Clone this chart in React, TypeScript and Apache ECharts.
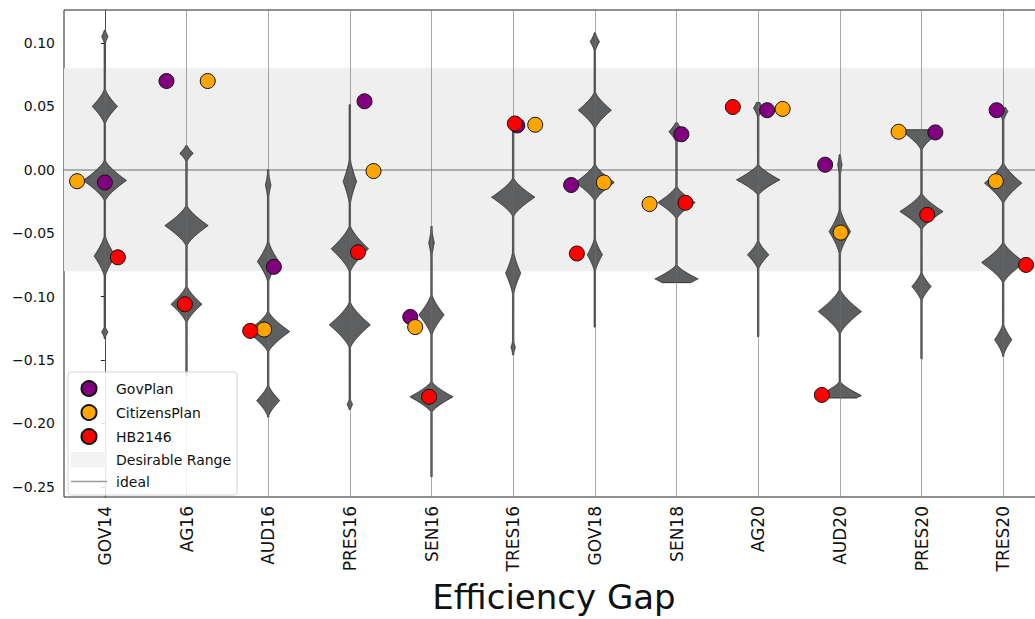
import React, { useEffect, useRef } from 'react';
import * as echarts from 'echarts';

const categories = ['GOV14', 'AG16', 'AUD16', 'PRES16', 'SEN16', 'TRES16', 'GOV18', 'SEN18', 'AG20', 'AUD20', 'PRES20', 'TRES20'];

const govPlan = [-0.010, 0.070, -0.0765, 0.054, -0.116, 0.035, -0.012, 0.028, 0.047, 0.004, 0.0295, 0.047];
const citizensPlan = [-0.009, 0.070, -0.126, -0.001, -0.124, 0.0355, -0.010, -0.027, 0.048, -0.0495, 0.030, -0.009];
const hb2146 = [-0.069, -0.106, -0.127, -0.065, -0.179, 0.0365, -0.066, -0.026, 0.0495, -0.1775, -0.0355, -0.075];

// horizontal dodge of each point within its category (fraction of category width)
const govOffset = [0, -0.245, 0.07, 0.18, -0.26, 0.05, -0.29, 0.06, 0.11, -0.18, 0.17, -0.08];
const citOffset = [-0.34, 0.26, -0.05, 0.29, -0.2, 0.27, 0.11, -0.33, 0.30, 0.01, -0.28, -0.09];
const hbOffset = [0.16, -0.02, -0.22, 0.10, -0.03, 0.02, -0.22, 0.11, -0.31, -0.22, 0.07, 0.28];

// violin extents
const violinMin = [-0.133, -0.162, -0.195, -0.189, -0.242, -0.146, -0.124, -0.089, -0.1315, -0.180, -0.149, -0.147];
const violinMax = [0.110, 0.019, 0.0, 0.0513, -0.0447, 0.038, 0.108, 0.037, 0.053, 0.0118, 0.0316, 0.049];
// violin density modes: [centre value, relative density, half extent]
const violinModes = [
  [[0.105, 0.12, 0.005], [0.050, 0.57, 0.0134], [-0.0084, 1.0, 0.0158], [-0.068, 0.48, 0.0158], [-0.128, 0.12, 0.004]],
  [[0.013, 0.29, 0.0063], [-0.044, 1.0, 0.0158], [-0.106, 0.71, 0.0142]],
  [[-0.012, 0.1, 0.0095], [-0.0723, 0.48, 0.0158], [-0.1276, 1.0, 0.0158], [-0.182, 0.52, 0.012]],
  [[-0.0092, 0.29, 0.0174], [-0.0623, 0.86, 0.018], [-0.1223, 0.95, 0.018], [-0.185, 0.1, 0.004]],
  [[-0.0576, 0.1, 0.0095], [-0.1144, 0.57, 0.0158], [-0.179, 1.0, 0.012]],
  [[0.035, 0.19, 0.005], [-0.0216, 1.0, 0.015], [-0.0815, 0.33, 0.0166], [-0.14, 0.07, 0.005]],
  [[0.101, 0.19, 0.007], [0.047, 0.76, 0.0142], [-0.010, 0.9, 0.0142], [-0.067, 0.33, 0.0126]],
  [[0.030, 0.33, 0.008], [-0.0258, 0.86, 0.0126], [-0.086, 1.0, 0.011]],
  [[0.0487, 0.19, 0.007], [-0.0079, 1.0, 0.012], [-0.067, 0.48, 0.011]],
  [[0.004, 0.07, 0.008], [-0.0487, 0.48, 0.0174], [-0.1118, 1.0, 0.0174], [-0.178, 1.0, 0.011]],
  [[0.030, 0.86, 0.0142], [-0.0329, 1.0, 0.0142], [-0.092, 0.43, 0.011]],
  [[0.046, 0.19, 0.007], [-0.0105, 0.86, 0.0158], [-0.0731, 1.0, 0.0158], [-0.134, 0.38, 0.012]],
];

const yTicks = [-0.25, -0.2, -0.15, -0.1, -0.05, 0, 0.05, 0.1];
const desirableRange = [-0.08, 0.08];
const idealValue = 0;

const FONT = 'DejaVu Sans';

function fmt(v: number) {
  const s = Math.abs(v).toFixed(2);
  return v < -1e-9 ? '\u2212' + s : s;
}

export default function App() {
  const ref = useRef<HTMLDivElement>(null);
  useEffect(() => {
    document.body.style.margin = '0';
    document.body.style.overflow = 'hidden';
    const chart = echarts.init(ref.current!, null, { renderer: 'svg' });

    const scatterSeries = (name: string, color: string, vals: number[], offs: number[]) => ({
      name,
      type: 'scatter',
      xAxisIndex: 1,
      z: 10,
      symbol: 'circle',
      symbolSize: 15,
      itemStyle: { color, borderColor: '#111', borderWidth: 1, opacity: 1 },
      data: vals.map((v, i) => [i + offs[i], v]),
    });

    const option: any = {
      animation: false,
      textStyle: { fontFamily: FONT },
      grid: { left: 64, right: -9, top: 10, bottom: 122, show: true, borderColor: '#222', borderWidth: 1, outerBoundsMode: 'none' },
      legend: {
        orient: 'vertical',
        left: 68,
        top: 372,
        z: 30,
        itemWidth: 36,
        itemHeight: 15,
        itemGap: 7,
        padding: [8, 6, 6, 3],
        backgroundColor: 'rgba(255,255,255,0.85)',
        borderColor: '#d4d4d4',
        borderWidth: 1,
        borderRadius: 3,
        textStyle: { fontFamily: FONT, fontSize: 14, color: '#111', padding: [0, 0, 0, 4] },
        data: [
          { name: 'GovPlan', icon: 'circle' },
          { name: 'CitizensPlan', icon: 'circle' },
          { name: 'HB2146', icon: 'circle' },
          { name: 'Desirable Range', icon: 'rect' },
          { name: 'ideal', icon: 'path://M0,0 M36,15 M0,6.75 L36,6.75 L36,8.25 L0,8.25 Z' },
        ],
      },
      xAxis: [
        {
          type: 'category',
          data: categories,
          boundaryGap: true,
          axisLine: { lineStyle: { color: '#222' } },
          axisTick: { alignWithLabel: true, length: 4, lineStyle: { color: '#222' } },
          axisLabel: { rotate: 90, fontSize: 17, color: '#111', margin: 9, fontFamily: FONT },
          splitLine: { show: false },
          name: 'Efficiency Gap',
          nameLocation: 'middle',
          nameGap: 83,
          nameTextStyle: { fontSize: 34, color: '#111', fontFamily: FONT },
        },
        { type: 'value', min: -0.5, max: 11.5, show: false },
      ],
      yAxis: {
        type: 'value',
        min: -0.258,
        max: 0.126,
        splitNumber: 8,
        axisLine: { show: true, lineStyle: { color: '#222' } },
        axisTick: { show: true, length: 4, lineStyle: { color: '#222' }, customValues: yTicks },
        axisLabel: { fontSize: 14, color: '#111', margin: 9, fontFamily: FONT, customValues: yTicks, formatter: (v: number) => fmt(v) },
        splitLine: { show: false },
      },
      series: [
        {
          name: 'Desirable Range',
          type: 'line',
          data: [],
          itemStyle: { color: '#f3f3f3' },
          lineStyle: { color: '#f3f3f3' },
          markArea: {
            silent: true,
            z: 1,
            itemStyle: { color: '#efefef' },
            data: [[{ yAxis: desirableRange[1] }, { yAxis: desirableRange[0] }]],
          },
        },
        {
          name: 'ideal',
          type: 'line',
          data: [],
          symbol: 'none',
          itemStyle: { color: '#9a9a9a' },
          lineStyle: { color: '#9a9a9a', width: 1.5 },
          markLine: {
            silent: true,
            z: 2,
            symbol: 'none',
            label: { show: false },
            lineStyle: { color: '#9a9a9a', width: 1.5, type: 'solid' },
            data: [{ yAxis: idealValue }],
          },
        },
        {
          name: 'violins',
          type: 'custom',
          z: 3,
          xAxisIndex: 0,
          encode: { x: 0, y: [1, 2] },
          data: categories.map((_, i) => [i, violinMin[i], violinMax[i]]),
          renderItem: (params: any, api: any) => {
            const i = params.dataIndex;
            const band = api.size([1, 0])[0];
            const maxHalf = band * 0.257;
            const tail = 0.7;
            const lo = violinMin[i];
            const hi = violinMax[i];
            const modes = violinModes[i].map(([c, d, e]) => ({ c, w: d * maxHalf, e }));
            const N = 500;
            const left: number[][] = [];
            const right: number[][] = [];
            for (let k = 0; k <= N; k++) {
              const y = hi - ((hi - lo) * k) / N;
              let w = tail;
              for (const m of modes) {
                const t = 1 - Math.abs(y - m.c) / m.e;
                if (t > 0) w += m.w * Math.pow(t, 1.35);
              }
              const p = api.coord([i, y]);
              left.push([p[0] - w, p[1]]);
              right.push([p[0] + w, p[1]]);
            }
            const points = left.concat(right.reverse());
            return {
              type: 'polygon',
              shape: { points },
              style: { fill: '#5d5f61', stroke: '#222', lineWidth: 0.8 },
            };
          },
          markLine: {
            silent: true,
            z: 4,
            symbol: 'none',
            label: { show: false },
            lineStyle: { color: 'rgba(110,110,110,0.6)', width: 1, type: 'solid' },
            data: categories.map((c) => ({ xAxis: c })),
          },
        },
        scatterSeries('GovPlan', '#800080', govPlan, govOffset),
        scatterSeries('CitizensPlan', '#FFA500', citizensPlan, citOffset),
        scatterSeries('HB2146', '#FF0000', hb2146, hbOffset),
      ],
    };

    chart.setOption(option);
    return () => chart.dispose();
  }, []);
  return <div ref={ref} style={{ width: 1035, height: 619 }} />;
}
